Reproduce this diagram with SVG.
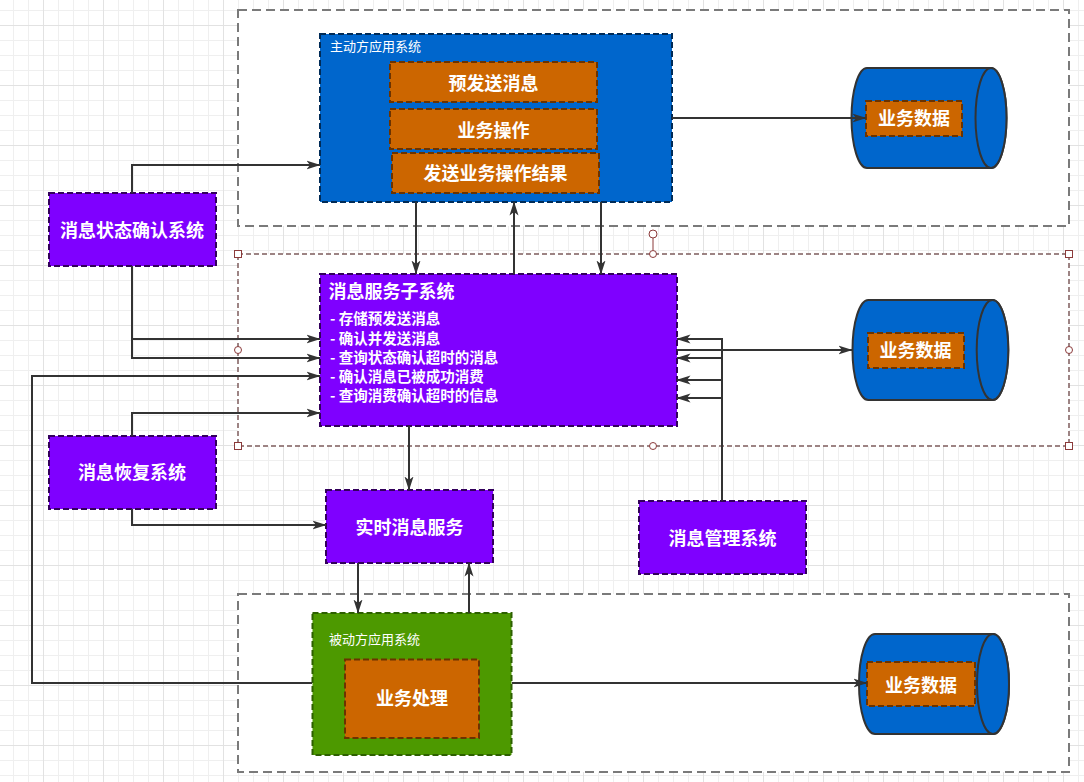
<svg xmlns="http://www.w3.org/2000/svg" width="1084" height="782" viewBox="0 0 1084 782">
<defs>
<pattern id="gridMinor" patternUnits="userSpaceOnUse" x="13" y="10" width="15" height="15">
<rect x="0" y="0" width="15" height="1" fill="#efefef"/>
<rect x="0" y="0" width="1" height="15" fill="#efefef"/>
</pattern>
<pattern id="gridMajor" patternUnits="userSpaceOnUse" x="43" y="25" width="60" height="60">
<rect x="0" y="0" width="60" height="1" fill="#e2e2e2"/>
<rect x="0" y="0" width="1" height="60" fill="#e2e2e2"/>
</pattern>
<marker id="arr" markerUnits="userSpaceOnUse" markerWidth="14" markerHeight="10" viewBox="0 0 14 10" refX="13.5" refY="5" orient="auto">
<path d="M0,0.5 L14,5 L0,9.5 L3.5,5 Z" fill="#333333"/>
</marker>
<style>
.container{fill:#ffffff;stroke:#7a7a7a;stroke-width:2;stroke-dasharray:9 5}
.sel{fill:#ffffff;stroke:#7d5c5c;stroke-width:1.5;stroke-dasharray:5 3}
.purple{fill:#7F00FF;stroke:#33005c;stroke-width:2;stroke-dasharray:6 3}
.blue{fill:#0066CC;stroke:#002b57;stroke-width:2;stroke-dasharray:6 3}
.green{fill:#4D9900;stroke:#2d6000;stroke-width:2;stroke-dasharray:6 3}
.orange{fill:#CC6600;stroke:#6b3300;stroke-width:2;stroke-dasharray:6 3}
.cyl{fill:#0066CC;stroke:#333333;stroke-width:2}
.lbl{font-family:"Noto Sans CJK SC","Microsoft YaHei",sans-serif;font-size:18px;font-weight:bold;fill:#ffffff;text-anchor:middle}
.small{font-family:"Noto Sans CJK SC","Microsoft YaHei",sans-serif;font-size:13px;fill:#ffffff}
.item{font-family:"Noto Sans CJK SC","Microsoft YaHei",sans-serif;font-size:14.5px;font-weight:bold;fill:#ffffff}
.title{font-family:"Noto Sans CJK SC","Microsoft YaHei",sans-serif;font-size:18px;font-weight:bold;fill:#ffffff}
.conn{fill:none;stroke:#333333;stroke-width:2}
.handle{fill:#ffffff;stroke:#8b3a3a;stroke-width:1}
</style>
</defs>
<rect x="0" y="0" width="1084" height="782" fill="#ffffff"/>
<rect x="0" y="0" width="1084" height="782" fill="url(#gridMinor)"/>
<rect x="0" y="0" width="1084" height="782" fill="url(#gridMajor)"/>

<g id="container-top"><rect class="container" x="238" y="10" width="831" height="216"/></g>
<g id="container-middle"><rect class="sel" x="238" y="254" width="831" height="192"/></g>
<g id="container-bottom"><rect class="container" x="238" y="594" width="831" height="178"/></g>

<g id="active-system">
<rect class="blue" x="320" y="34" width="352" height="168"/>
<text class="small" x="330" y="50.5">主动方应用系统</text>
</g>
<g id="pre-send">
<rect class="orange" x="390" y="62" width="207" height="40"/>
<text class="lbl" x="493.5" y="89.8">预发送消息</text>
</g>
<g id="biz-op">
<rect class="orange" x="390" y="109" width="207" height="40"/>
<text class="lbl" x="493.5" y="137">业务操作</text>
</g>
<g id="send-result">
<rect class="orange" x="392" y="153" width="207" height="40"/>
<text class="lbl" x="495.5" y="179.8">发送业务操作结果</text>
</g>

<g id="db-top">
<path class="cyl" d="M867,68 H991 A15.5,50 0 0 1 991,168 H867 A15.5,50 0 0 1 867,68 Z"/>
<ellipse class="cyl" cx="991" cy="118" rx="15.5" ry="50"/>
<rect class="orange" x="866" y="101" width="96" height="35"/>
<text class="lbl" x="914" y="124.8">业务数据</text>
</g>

<g id="status-confirm">
<rect class="purple" x="49" y="193" width="167" height="73"/>
<text class="lbl" x="132" y="236.5">消息状态确认系统</text>
</g>

<g id="msg-service">
<rect class="purple" x="320" y="274" width="357" height="152"/>
<text class="title" x="328.5" y="298.2">消息服务子系统</text>
<text class="item" x="330" y="324.3"><tspan x="330" y="324.3">- 存储预发送消息</tspan><tspan x="330" y="343.5">- 确认并发送消息</tspan><tspan x="330" y="362.7">- 查询状态确认超时的消息</tspan><tspan x="330" y="381.9">- 确认消息已被成功消费</tspan><tspan x="330" y="401.1">- 查询消费确认超时的信息</tspan></text>
</g>

<g id="db-middle">
<path class="cyl" d="M868.3,300 H992.5 A15.8,50 0 0 1 992.5,400 H868.3 A15.8,50 0 0 1 868.3,300 Z"/>
<ellipse class="cyl" cx="992.5" cy="350" rx="15.8" ry="50"/>
<rect class="orange" x="868" y="333" width="96" height="35"/>
<text class="lbl" x="915.5" y="356.5">业务数据</text>
</g>

<g id="recovery">
<rect class="purple" x="49" y="436" width="167" height="73"/>
<text class="lbl" x="132" y="479.2">消息恢复系统</text>
</g>

<g id="realtime">
<rect class="purple" x="326" y="490" width="167" height="73"/>
<text class="lbl" x="409.5" y="533.8">实时消息服务</text>
</g>

<g id="management">
<rect class="purple" x="639" y="501" width="167" height="73"/>
<text class="lbl" x="722.5" y="544.8">消息管理系统</text>
</g>

<g id="passive-system">
<rect class="green" x="312.5" y="613" width="199" height="142"/>
<text class="small" x="329" y="643.7">被动方应用系统</text>
</g>
<g id="biz-handle">
<rect class="orange" x="345" y="659.5" width="134" height="78.5"/>
<text class="lbl" x="412" y="704.8">业务处理</text>
</g>

<g id="db-bottom">
<path class="cyl" d="M875,634 H993 A16,50 0 0 1 993,734 H875 A16,50 0 0 1 875,634 Z"/>
<ellipse class="cyl" cx="993" cy="684" rx="16" ry="50"/>
<rect class="orange" x="867" y="662" width="108" height="44"/>
<text class="lbl" x="921" y="691.5">业务数据</text>
</g>

<g id="connectors">
<path class="conn" d="M672,118 H866" marker-end="url(#arr)"/>
<path class="conn" d="M132,193 V165 H320" marker-end="url(#arr)"/>
<path class="conn" d="M132,266 V358 H320" marker-end="url(#arr)"/>
<path class="conn" d="M132,339 H320" marker-end="url(#arr)"/>
<path class="conn" d="M312,683 H32 V376 H320" marker-end="url(#arr)"/>
<path class="conn" d="M132,436 V413 H320" marker-end="url(#arr)"/>
<path class="conn" d="M132,509 V525 H326" marker-end="url(#arr)"/>
<path class="conn" d="M409,426 V490" marker-end="url(#arr)"/>
<path class="conn" d="M358,563 V613" marker-end="url(#arr)"/>
<path class="conn" d="M469,613 V563" marker-end="url(#arr)"/>
<path class="conn" d="M416,202 V274" marker-end="url(#arr)"/>
<path class="conn" d="M601,202 V274" marker-end="url(#arr)"/>
<path class="conn" d="M514,274 V202" marker-end="url(#arr)"/>
<path class="conn" d="M677,350 H852" marker-end="url(#arr)"/>
<path class="conn" d="M722,501 V339 H677" marker-end="url(#arr)"/>
<path class="conn" d="M722,358 H677" marker-end="url(#arr)"/>
<path class="conn" d="M722,380 H677" marker-end="url(#arr)"/>
<path class="conn" d="M722,398 H677" marker-end="url(#arr)"/>
<path class="conn" d="M512,683 H867" marker-end="url(#arr)"/>
</g>

<g id="selection-handles">
<line x1="653" y1="238" x2="653" y2="250" stroke="#8b3a3a" stroke-width="1"/>
<circle class="handle" cx="653" cy="234" r="4"/>
<circle class="handle" cx="653" cy="254" r="3.5"/>
<circle class="handle" cx="653" cy="446" r="3.5"/>
<circle class="handle" cx="238" cy="350" r="3.5"/>
<circle class="handle" cx="1069" cy="350" r="3.5"/>
<rect class="handle" x="234.5" y="250.5" width="7" height="7"/>
<rect class="handle" x="1065.5" y="250.5" width="7" height="7"/>
<rect class="handle" x="234.5" y="442.5" width="7" height="7"/>
<rect class="handle" x="1065.5" y="442.5" width="7" height="7"/>
</g>
</svg>
